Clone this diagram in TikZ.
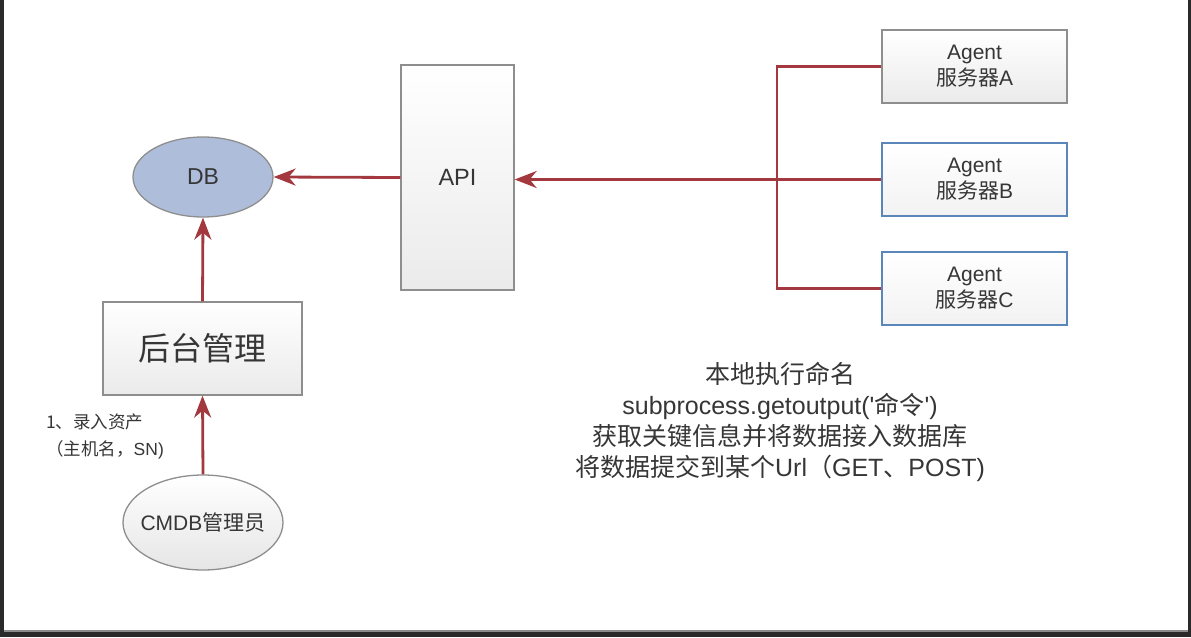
\documentclass[tikz,border=0pt]{standalone}
\usepackage{fontspec}
\setmainfont{Liberation Sans}[Ligatures=TeXOff]
\newfontfamily\cjk{Noto Sans CJK SC}
\usetikzlibrary{arrows.meta,shapes.geometric}
\definecolor{lnk}{HTML}{A3393F}
\definecolor{txt}{HTML}{363636}
\definecolor{gbord}{HTML}{8E8E8E}
\definecolor{bbord}{HTML}{5A86BA}
\definecolor{dbfill}{HTML}{AEBEDA}
\definecolor{frame}{HTML}{2A2A2A}
\begin{document}
\begin{tikzpicture}[x=1pt,y=-1pt,
  every node/.style={text=txt},
  graybox/.style={draw=gbord, line width=1.3pt, top color=white, bottom color=black!8, inner sep=0pt},
  bluebox/.style={draw=bbord, line width=1.3pt, top color=white, bottom color=blue!3!black!5, inner sep=0pt},
  agentbox/.style={minimum width=185pt, minimum height=73pt, align=center, font=\fontsize{21}{26}\selectfont},
  link/.style={draw=lnk, line width=2.8pt},
  arr/.style={link, -{Stealth[length=22pt,width=17pt,inset=7pt]}},
]
\useasboundingbox (0,0) rectangle (1191,637);
\fill[frame] (0,0) rectangle (1191,637);
\fill[white] (4,0) rectangle (1188,630);
\draw[black!45, line width=1.5pt] (4,631) -- (1188,631);

% Agents
\node[graybox, agentbox] (agA) at (974.5,66.5) {Agent\\{\cjk 服务器}A};
\node[bluebox, agentbox] (agB) at (974.5,179.5) {Agent\\{\cjk 服务器}B};
\node[bluebox, agentbox] (agC) at (974.5,288.5) {Agent\\{\cjk 服务器}C};

% API
\node[graybox, minimum width=113pt, minimum height=225pt, font=\fontsize{23.5}{28}\selectfont] (api) at (457.5,177.5) {API};

% DB
\node[ellipse, draw=gbord, line width=1.3pt, fill=dbfill, minimum width=140pt, minimum height=80pt, inner sep=0pt, font=\fontsize{23}{27}\selectfont] (db) at (203,177) {DB};

% backend
\node[graybox, minimum width=199pt, minimum height=93pt, font=\cjk\fontsize{32}{36}\selectfont] (hou) at (202.5,348.5) {后台管理};

% CMDB admin
\node[ellipse, draw=gbord, line width=1.3pt, top color=white, bottom color=black!10, minimum width=160pt, minimum height=95pt, inner sep=-12pt, font=\fontsize{21}{25}\selectfont] (cmdb) at (203,522.5) {CMDB{\cjk 管理员}};

% label
\node[anchor=west, align=left, inner sep=0pt, font=\cjk\fontsize{17.5}{27}\selectfont] (lab) at (46,436) {1、录入资产\\（主机名，{\rmfamily SN)}};

% text block
\node[align=center, inner sep=0pt, font=\fontsize{25}{31}\selectfont] (note) at (780,422)
  {{\cjk 本地执行命名}\\subprocess.getoutput('{\cjk 命令}')\\{\cjk 获取关键信息并将数据接入数据库}\\{\cjk 将数据提交到某个}Url{\cjk （}GET{\cjk 、}POST)};

% connectors
\coordinate (jA) at (777,66.5);
\draw[link] (agA.west) -- (jA) -- (jA |- agC.west) -- (agC.west);
\draw[arr] (agB.west) -- (api.east |- agB.west);
\draw[arr] (api.west) -- (db.east);
\draw[arr] (hou.north) -- (db.south);
\draw[arr] (cmdb.north) -- (hou.south);
\end{tikzpicture}
\end{document}
